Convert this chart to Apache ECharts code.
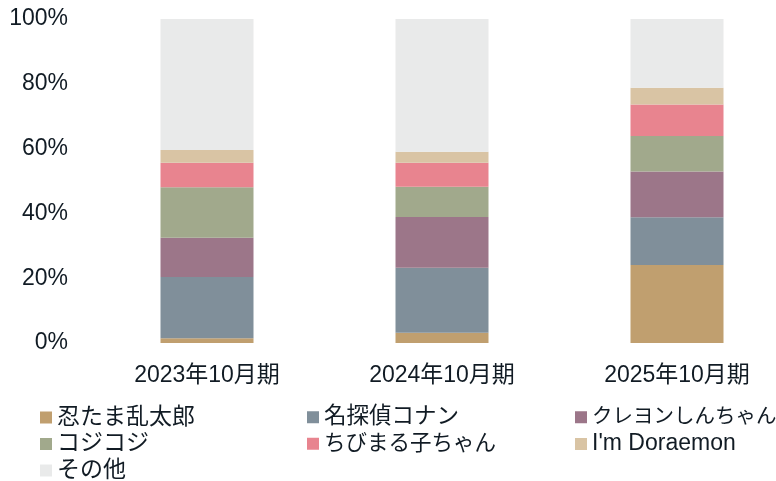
<!DOCTYPE html>
<html>
<head>
<meta charset="utf-8">
<script src="https://cdn.jsdelivr.net/npm/echarts@6/dist/echarts.min.js"></script>
<style>html,body{margin:0;padding:0;background:#fff;overflow:hidden;width:776px;height:481px;}#c{width:820px;height:540px;}</style>
</head>
<body>
<div id="c"></div>
<script>
var categories = ['2023年10月期', '2024年10月期', '2025年10月期'];
var seriesNames = ['忍たま乱太郎', '名探偵コナン', 'クレヨンしんちゃん', 'コジコジ', 'ちびまる子ちゃん', "I'm Doraemon", 'その他'];
var nintama = [1.5, 3.2, 24.1];
var conan = [18.9, 20.0, 14.7];
var shinchan = [12.1, 15.7, 14.1];
var kojikoji = [15.6, 9.3, 11.0];
var chibimaruko = [7.5, 7.4, 9.7];
var doraemon = [4.0, 3.4, 5.2];
var others = [40.4, 41.0, 21.2];
var yTicks = ['0%', '20%', '40%', '60%', '80%', '100%'];

var values = [nintama, conan, shinchan, kojikoji, chibimaruko, doraemon, others];
var colors = ['#c09f6f', '#808f9a', '#9c7689', '#a1a98c', '#e8848f', '#d9c4a4', '#e9eaea'];
var font = '"Liberation Sans", Arial, "Noto Sans CJK JP", sans-serif';
var txt = '#111b24';

var chart = echarts.init(document.getElementById('c'), null, {renderer: 'canvas'});
function legend(left, top, names, size) {
  return {
    orient: 'vertical', itemWidth: 12, itemHeight: 12, itemGap: 3.5, selectedMode: false,
    icon: 'rect', padding: 0, left: left, top: top, data: names,
    textStyle: {fontFamily: font, fontSize: size, color: txt}
  };
}
chart.setOption({
  animation: false,
  color: colors,
  grid: {left: 89.5, top: 19, width: 705, height: 324, containLabel: false},
  legend: [
    legend(40, 406, [seriesNames[0], seriesNames[3], seriesNames[6]], 23),
    legend(307, 406, [seriesNames[1]], 22.5),
    legend(307, 433, [seriesNames[4]], 21.5),
    legend(575, 407, [seriesNames[2]], 20.5),
    legend(575, 432.5, [seriesNames[5]], 23)
  ],
  xAxis: {
    type: 'category', data: categories,
    axisLine: {show: false}, axisTick: {show: false},
    axisLabel: {fontFamily: font, fontSize: 23, color: txt, margin: 21}
  },
  yAxis: {
    type: 'value', min: 0, max: 100, interval: 20,
    axisLine: {show: false}, axisTick: {show: false}, splitLine: {show: false},
    axisLabel: {fontFamily: font, fontSize: 23, color: txt, margin: 21.5,
      formatter: function (v) { return yTicks[Math.round(v / 20)]; }}
  },
  series: seriesNames.map(function (n, i) {
    return {name: n, type: 'bar', stack: 'total', barWidth: 93, data: values[i],
      itemStyle: {color: colors[i]}};
  })
});
</script>
</body>
</html>
